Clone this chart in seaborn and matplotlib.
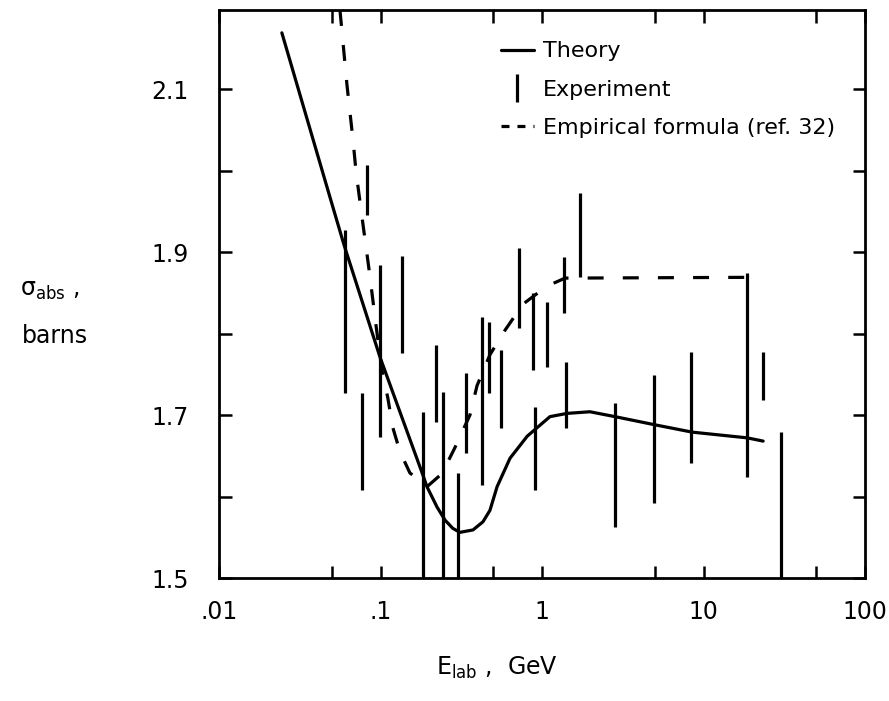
import numpy as np
import pandas as pd
import matplotlib
matplotlib.use("Agg")
import matplotlib.pyplot as plt
import seaborn as sns
from matplotlib.lines import Line2D
from matplotlib.ticker import FixedLocator, NullFormatter, FixedFormatter

# ---- data ----
theory_E = [0.0245, 0.0487, 0.0594, 0.0993, 0.181, 0.194, 0.224, 0.251, 0.28, 0.31, 0.374,
            0.431, 0.476, 0.527, 0.634, 0.81, 1.12, 1.43, 1.98, 2.83, 5.0, 8.5, 18.6, 23.4]
theory_sigma = [2.169, 1.967, 1.909, 1.771, 1.629, 1.612, 1.587, 1.571, 1.561, 1.556, 1.559,
                1.569, 1.583, 1.612, 1.647, 1.674, 1.698, 1.702, 1.704, 1.698, 1.688, 1.679,
                1.672, 1.668]

emp_E = [0.0561, 0.0620, 0.0676, 0.0706, 0.078, 0.085, 0.0938, 0.102, 0.111, 0.119, 0.132,
         0.152, 0.194, 0.240, 0.289, 0.358, 0.396, 0.476, 0.59, 0.762, 1.07, 1.39, 21.5]
emp_sigma = [2.197, 2.105, 2.037, 1.998, 1.933, 1.878, 1.810, 1.755, 1.721, 1.685, 1.655,
             1.629, 1.612, 1.628, 1.660, 1.700, 1.736, 1.774, 1.804, 1.836, 1.858, 1.868, 1.869]

exp_E = [0.0603, 0.0825, 0.0768, 0.0993, 0.136, 0.221, 0.183, 0.244, 0.30, 0.338, 0.425,
         0.47, 0.557, 0.72, 0.88, 0.905, 1.07, 1.37, 1.41, 1.72, 2.83, 4.94, 8.37, 18.6,
         23.4, 30.2]
exp_low = [1.727, 1.945, 1.608, 1.673, 1.776, 1.691, 1.50, 1.50, 1.50, 1.653, 1.614,
           1.727, 1.684, 1.807, 1.755, 1.608, 1.759, 1.825, 1.684, 1.869, 1.563, 1.592,
           1.641, 1.624, 1.718, 1.50]
exp_high = [1.927, 2.007, 1.727, 1.884, 1.895, 1.786, 1.704, 1.728, 1.629, 1.752, 1.820,
            1.814, 1.780, 1.905, 1.850, 1.710, 1.839, 1.894, 1.765, 1.972, 1.715, 1.749,
            1.777, 1.874, 1.777, 1.679]

x_ticks = [0.01, 0.1, 1, 10, 100]
x_tick_labels = [".01", ".1", "1", "10", "100"]
x_minor = [0.05, 0.5, 5, 50]
y_ticks = [1.5, 1.7, 1.9, 2.1]
y_tick_labels = ["1.5", "1.7", "1.9", "2.1"]
y_minor = [1.6, 1.8, 2.0]
legend_labels = ["Theory", "Experiment", "Empirical formula (ref. 32)"]

# ---- style ----
sns.set_style("ticks")
plt.rcParams["font.family"] = ["DejaVu Sans"]
plt.rcParams["mathtext.fontset"] = "dejavusans"
for key in ["text.color", "axes.labelcolor", "xtick.color", "ytick.color",
            "axes.edgecolor"]:
    plt.rcParams[key] = "black"

LW = 2.3
H = 701
fig = plt.figure(figsize=(8.89, 7.01), dpi=100)
ax = fig.add_axes([219 / 889, 1 - 578 / H, (865 - 219) / 889, (578 - 10) / H])
ax.set_xscale("log")

theory = pd.DataFrame({"E": theory_E, "sigma": theory_sigma})
emp = pd.DataFrame({"E": emp_E, "sigma": emp_sigma})
sns.lineplot(data=theory, x="E", y="sigma", ax=ax, color="black", lw=LW,
             sort=False, estimator=None)
sns.lineplot(data=emp, x="E", y="sigma", ax=ax, color="black", lw=LW,
             linestyle=(0, (5, 6)), sort=False, estimator=None)
ax.vlines(exp_E, exp_low, exp_high, color="black", lw=LW)

ax.set_xlim(0.01, 100)
ax.set_ylim(1.5, 2.197)

ax.xaxis.set_major_locator(FixedLocator(x_ticks))
ax.xaxis.set_major_formatter(FixedFormatter(x_tick_labels))
ax.xaxis.set_minor_locator(FixedLocator(x_minor))
ax.xaxis.set_minor_formatter(NullFormatter())
ax.yaxis.set_major_locator(FixedLocator(y_ticks))
ax.yaxis.set_major_formatter(FixedFormatter(y_tick_labels))
ax.yaxis.set_minor_locator(FixedLocator(y_minor))
ax.yaxis.set_minor_formatter(NullFormatter())

ax.tick_params(which="both", direction="in", top=True, right=True,
               length=9, width=1.8, labelsize=17, colors="black")
ax.tick_params(axis="y", pad=22)
ax.tick_params(axis="x", pad=16)
for s in ax.spines.values():
    s.set_linewidth(2.0)
    s.set_color("black")
    s.set_visible(True)

ax.set_xlabel("")
ax.set_ylabel("")

handles = [Line2D([], [], color="black", lw=LW),
           Line2D([], [], color="black", marker="|", linestyle="None",
                  markersize=20, mew=LW),
           Line2D([], [], color="black", lw=LW, linestyle=(0, (2.5, 2.5)))]
leg = ax.legend(handles, legend_labels, loc="upper left", bbox_to_anchor=(0.405, 0.98),
                frameon=False, fontsize=16, handlelength=1.5, handletextpad=0.4,
                labelspacing=0.82)
for t in leg.get_texts():
    t.set_color("black")

fig.text(20, H - 290, "σ$_{\\rm abs}$ ,", fontsize=17, transform=None,
         va="center", ha="left", color="black")
fig.text(22, H - 336, "barns", fontsize=17, transform=None, va="center", ha="left",
         color="black")
fig.text(436, H - 668, "E$_{\\rm lab}$ ,  GeV", fontsize=17, transform=None,
         va="center", ha="left", color="black")

fig.savefig("out.png", dpi=100)
